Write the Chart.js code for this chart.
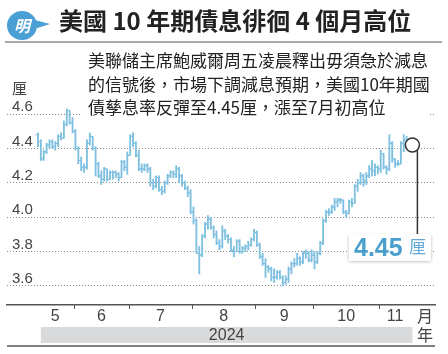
<!DOCTYPE html>
<html>
<head>
<meta charset="utf-8">
<script src="https://cdn.jsdelivr.net/npm/chart.js@4.4.1/dist/chart.umd.min.js"></script>
<style>
  html, body { margin: 0; padding: 0; background: #fff; }
  #wrap { position: relative; width: 448px; height: 354px; overflow: hidden; font-family: "Noto Sans CJK TC", sans-serif; }
  #chart { position: absolute; left: 0; top: 0; }
  .logo { position: absolute; left: 7px; top: 11px; width: 30px; height: 29px; border-radius: 50%; background: #4a9fd4; z-index: 2; }
  .logo:after { content: ''; position: absolute; left: 24px; top: 8px; border-left: 19px solid #4a9fd4; border-top: 5px solid transparent; border-bottom: 6px solid transparent; }
  .logo span { position: absolute; left: 0; top: 0; width: 30px; line-height: 29px; text-align: center; color: #fff; font-weight: bold; font-style: italic; font-size: 16px; z-index: 3; }
  .title { position: absolute; left: 59px; top: 6px; font-size: 24px; line-height: 28px; font-weight: bold; color: #222; white-space: nowrap; z-index: 2; }
  .rule { position: absolute; left: 5px; top: 41px; width: 437px; height: 2px; background: #aaa; z-index: 2; }
  .note { position: absolute; left: 82px; top: 48px; width: 342px; padding-left: 6px; background: #fff; font-size: 17px; line-height: 23.5px; color: #222; white-space: nowrap; z-index: 2; }
  .unit { position: absolute; font-size: 15px; line-height: 18px; color: #444; z-index: 2; }
</style>
</head>
<body>
<div id="wrap">
  <canvas id="chart" width="448" height="354"></canvas>
  <div class="logo"><span>明</span></div>
  <div class="title">美國 10 年期債息徘徊 4 個月高位</div>
  <div class="rule"></div>
  <div class="note">美聯儲主席鮑威爾周五凌晨釋出毋須急於減息<br>的信號後，市場下調減息預期，美國10年期國<br>債孳息率反彈至4.45厘，漲至7月初高位</div>
  <div class="unit" style="left:12px;top:79px;">厘</div>
  <div class="unit" style="left:417px;top:306px;font-size:16px;">月</div>
  <div class="unit" style="left:417px;top:325px;font-size:16px;">年</div>
</div>
<script>
// trading days, May 14 - Nov 15 2024 (month-day)
const dates = [
  '5-14','5-15','5-16','5-17','5-20','5-21','5-22','5-23','5-24','5-28','5-29','5-30','5-31',
  '6-3','6-4','6-5','6-6','6-7','6-10','6-11','6-12','6-13','6-14','6-17','6-18','6-20','6-21','6-24','6-25','6-26','6-27','6-28',
  '7-1','7-2','7-3','7-5','7-8','7-9','7-10','7-11','7-12','7-15','7-16','7-17','7-18','7-19','7-22','7-23','7-24','7-25','7-26','7-29','7-30','7-31',
  '8-1','8-2','8-5','8-6','8-7','8-8','8-9','8-12','8-13','8-14','8-15','8-16','8-19','8-20','8-21','8-22','8-23','8-26','8-27','8-28','8-29','8-30',
  '9-3','9-4','9-5','9-6','9-9','9-10','9-11','9-12','9-13','9-16','9-17','9-18','9-19','9-20','9-23','9-24','9-25','9-26','9-27','9-30',
  '10-1','10-2','10-3','10-4','10-7','10-8','10-9','10-10','10-11','10-14','10-15','10-16','10-17','10-18','10-21','10-22','10-23','10-24','10-25','10-28','10-29','10-30','10-31',
  '11-1','11-4','11-5','11-6','11-7','11-8','11-11','11-12','11-13','11-14','11-15'
];

const opens = [
  4.48,4.44,4.34,4.38,4.42,4.44,4.41,4.43,4.47,4.46,4.54,4.62,4.55,
  4.50,4.40,4.33,4.29,4.29,4.43,4.47,4.40,4.31,4.24,4.22,4.28,4.22,4.26,4.26,4.25,4.23,4.32,4.29,
  4.36,4.47,4.43,4.36,4.28,4.28,4.30,4.28,4.20,4.18,4.23,4.16,4.15,4.20,4.24,4.26,4.25,4.28,4.24,4.20,4.17,4.14,
  4.03,3.98,3.79,3.78,3.89,3.96,3.99,3.94,3.90,3.85,3.83,3.92,3.89,3.87,3.81,3.80,3.86,3.80,3.82,3.83,3.84,3.87,
  3.91,3.84,3.77,3.73,3.71,3.70,3.65,3.65,3.68,3.65,3.62,3.64,3.70,3.73,3.73,3.76,3.74,3.79,3.79,3.75,
  3.78,3.74,3.79,3.85,3.98,4.03,4.03,4.06,4.09,4.10,4.10,4.03,4.02,4.09,4.08,4.18,4.20,4.24,4.21,4.24,4.28,4.27,4.29,
  4.28,4.37,4.29,4.28,4.43,4.34,4.31,4.31,4.43,4.45,4.43
];
const highs = [
  4.49,4.45,4.39,4.43,4.45,4.45,4.44,4.48,4.49,4.56,4.63,4.62,4.58,
  4.51,4.41,4.35,4.31,4.45,4.49,4.47,4.41,4.32,4.27,4.29,4.28,4.27,4.27,4.27,4.26,4.33,4.33,4.38,
  4.48,4.49,4.44,4.39,4.31,4.31,4.31,4.29,4.22,4.24,4.24,4.18,4.21,4.25,4.27,4.27,4.30,4.29,4.25,4.21,4.18,4.16,
  4.06,3.99,3.83,3.90,3.97,4.01,4.00,3.95,3.92,3.87,3.95,3.93,3.90,3.88,3.83,3.87,3.87,3.83,3.84,3.86,3.88,3.93,
  3.92,3.85,3.79,3.76,3.72,3.71,3.70,3.69,3.69,3.66,3.66,3.71,3.74,3.76,3.79,3.77,3.80,3.81,3.80,3.81,
  3.80,3.80,3.86,3.99,4.04,4.05,4.07,4.11,4.11,4.11,4.10,4.04,4.10,4.11,4.19,4.22,4.26,4.25,4.26,4.30,4.33,4.31,4.30,
  4.39,4.37,4.30,4.48,4.44,4.34,4.33,4.44,4.48,4.47,4.45
];
const lows = [
  4.41,4.33,4.33,4.37,4.40,4.40,4.39,4.41,4.45,4.46,4.53,4.54,4.49,
  4.39,4.31,4.27,4.26,4.28,4.42,4.39,4.24,4.23,4.19,4.21,4.21,4.22,4.22,4.23,4.21,4.23,4.27,4.25,
  4.36,4.41,4.35,4.27,4.26,4.27,4.26,4.18,4.16,4.17,4.15,4.13,4.14,4.19,4.23,4.23,4.23,4.20,4.18,4.16,4.12,4.02,
  3.96,3.79,3.67,3.77,3.88,3.93,3.93,3.88,3.84,3.81,3.82,3.87,3.85,3.80,3.77,3.80,3.79,3.79,3.80,3.81,3.83,3.86,
  3.83,3.76,3.72,3.65,3.68,3.63,3.62,3.64,3.64,3.60,3.61,3.62,3.67,3.71,3.72,3.72,3.73,3.76,3.74,3.74,
  3.70,3.73,3.78,3.84,3.97,4.01,4.02,4.04,4.06,4.08,4.02,4.00,4.02,4.06,4.08,4.15,4.19,4.18,4.19,4.23,4.24,4.24,4.25,
  4.26,4.28,4.25,4.27,4.32,4.29,4.30,4.31,4.38,4.40,4.39
];
const closes = [
  4.44,4.34,4.38,4.42,4.44,4.41,4.43,4.47,4.46,4.54,4.62,4.55,4.50,
  4.40,4.33,4.29,4.29,4.43,4.47,4.40,4.31,4.24,4.22,4.28,4.22,4.26,4.26,4.25,4.23,4.32,4.29,4.36,
  4.47,4.43,4.36,4.28,4.28,4.30,4.28,4.20,4.18,4.23,4.16,4.15,4.20,4.24,4.26,4.25,4.28,4.24,4.20,4.17,4.14,4.03,
  3.98,3.79,3.78,3.89,3.96,3.99,3.94,3.90,3.85,3.83,3.92,3.89,3.87,3.81,3.80,3.86,3.80,3.82,3.83,3.84,3.87,3.91,
  3.84,3.77,3.73,3.71,3.70,3.65,3.65,3.68,3.65,3.62,3.64,3.70,3.73,3.73,3.76,3.74,3.79,3.79,3.75,3.78,
  3.74,3.79,3.85,3.98,4.03,4.03,4.06,4.09,4.10,4.10,4.03,4.02,4.09,4.08,4.18,4.20,4.24,4.21,4.24,4.28,4.27,4.29,4.28,
  4.37,4.29,4.28,4.43,4.34,4.31,4.31,4.43,4.45,4.43,4.45
];

const yTicks = [3.6, 3.8, 4.0, 4.2, 4.4, 4.6];
const monthLabels = ['5', '6', '7', '8', '9', '10', '11'];
const yearLabel = '2024';
const calloutText = '4.45';
const calloutUnit = '厘';
const calloutLevel = 4.42;

const barColor = '#7fc0e0';
const numFont = '"Liberation Sans", Arial, sans-serif';

const idx = dates.map((d, i) => i);
const monthOf = dates.map(d => +d.split('-')[0]);
const monthStart = [];
const monthEnd = [];
monthOf.forEach((m, i) => {
    if (i === 0 || monthOf[i - 1] !== m) monthStart.push(i);
    if (i === monthOf.length - 1 || monthOf[i + 1] !== m) monthEnd.push(i);
});
const monthMid = monthStart.map((s, k) => (s + monthEnd[k]) / 2);

// month ticks, year band, callout
const decor = {
    id: 'decor',
    afterDraw(chart) {
        const { ctx, chartArea: a, scales: { x, y } } = chart;
        ctx.save();

        ctx.strokeStyle = '#555';
        ctx.lineWidth = 1;
        monthStart.slice(1).forEach(i => {
            const px = Math.round(x.getPixelForValue(i - 0.5)) + 0.5;
            ctx.beginPath();
            ctx.moveTo(px, a.bottom);
            ctx.lineTo(px, a.bottom + 4);
            ctx.stroke();
        });

        const bx0 = x.getPixelForValue(1);
        const bx1 = x.getPixelForValue(dates.length);
        ctx.fillStyle = '#d9dadb';
        ctx.fillRect(bx0, a.bottom + 22, bx1 - bx0, 16);
        ctx.fillStyle = '#444';
        ctx.font = '16px ' + numFont;
        ctx.textAlign = 'center';
        ctx.textBaseline = 'middle';
        ctx.fillText(yearLabel, (bx0 + bx1) / 2, a.bottom + 30.5);

        ctx.strokeStyle = '#555';
        ctx.lineWidth = 1.5;
        ctx.beginPath();
        ctx.moveTo(a.left, a.bottom + 41);
        ctx.lineTo(a.right, a.bottom + 41);
        ctx.stroke();

        // callout
        const cx = x.getPixelForValue(dates.length);
        const cy = y.getPixelForValue(calloutLevel);
        const boxL = a.right - 86, boxT = cy + 89, boxW = 82, boxH = 27;
        ctx.strokeStyle = '#333';
        ctx.lineWidth = 1.5;
        ctx.beginPath();
        ctx.moveTo(cx + 5, cy + 5);
        ctx.lineTo(cx + 5, boxT);
        ctx.stroke();
        ctx.fillStyle = '#fff';
        ctx.beginPath();
        ctx.arc(cx, cy, 7, 0, Math.PI * 2);
        ctx.fill();
        ctx.stroke();

        ctx.shadowColor = 'rgba(0,0,0,0.3)';
        ctx.shadowBlur = 3;
        ctx.shadowOffsetY = 1;
        ctx.fillStyle = '#fff';
        ctx.fillRect(boxL, boxT, boxW, boxH);
        ctx.shadowColor = 'transparent';
        ctx.textAlign = 'left';
        ctx.textBaseline = 'alphabetic';
        ctx.fillStyle = '#4a9fcc';
        ctx.font = 'bold 25px ' + numFont;
        ctx.fillText(calloutText, boxL + 5, boxT + 22);
        ctx.fillStyle = '#62aad5';
        ctx.font = '17px "Noto Sans CJK TC", sans-serif';
        ctx.fillText(calloutUnit, boxL + 60, boxT + 19);

        ctx.restore();
    }
};

new Chart(document.getElementById('chart'), {
    type: 'bar',
    data: {
        datasets: [
            {
                type: 'bar',
                label: 'range',
                data: idx.map(i => ({ x: i, y: [lows[i], highs[i]] })),
                backgroundColor: barColor,
                barThickness: 1.2,
                grouped: false
            },
            {
                type: 'line',
                label: 'open',
                data: idx.map(i => ({ x: i - 0.45, y: opens[i] })),
                showLine: false,
                pointStyle: 'line',
                pointRadius: 1.3,
                pointHoverRadius: 0,
                pointBorderWidth: 1,
                pointBorderColor: barColor
            },
            {
                type: 'line',
                label: 'close',
                data: idx.map(i => ({ x: i + 0.45, y: closes[i] })),
                showLine: false,
                pointStyle: 'line',
                pointRadius: 1.3,
                pointHoverRadius: 0,
                pointBorderWidth: 1,
                pointBorderColor: barColor
            }
        ]
    },
    options: {
        responsive: false,
        animation: false,
        layout: { padding: { left: 7, right: 13, top: 97, bottom: 29 } },
        plugins: { legend: { display: false }, tooltip: { enabled: false } },
        scales: {
            x: {
                type: 'linear',
                offset: false,
                min: -10.76,
                max: 137.85,
                afterBuildTicks: s => { s.ticks = monthMid.map(v => ({ value: v })); },
                afterFit: s => { s.height = 20; },
                ticks: {
                    autoSkip: false,
                    maxRotation: 0,
                    padding: 2,
                    color: '#444',
                    font: { family: numFont, size: 16 },
                    callback: (v, i) => monthLabels[i]
                },
                grid: { display: false, drawTicks: false },
                border: { display: true, color: '#555', width: 1.5 }
            },
            y: {
                type: 'linear',
                min: 3.4895,
                max: 4.699,
                afterBuildTicks: s => { s.ticks = yTicks.map(v => ({ value: v })); },
                afterFit: s => { s.width = 0; },
                ticks: {
                    mirror: true,
                    padding: 5,
                    labelOffset: -7,
                    color: '#444',
                    font: { family: numFont, size: 15 },
                    callback: v => v.toFixed(1)
                },
                grid: { color: '#888', lineWidth: 1, drawTicks: false },
                border: { display: false, dash: [1, 2] }
            }
        }
    },
    plugins: [decor]
});
</script>
</body>
</html>
